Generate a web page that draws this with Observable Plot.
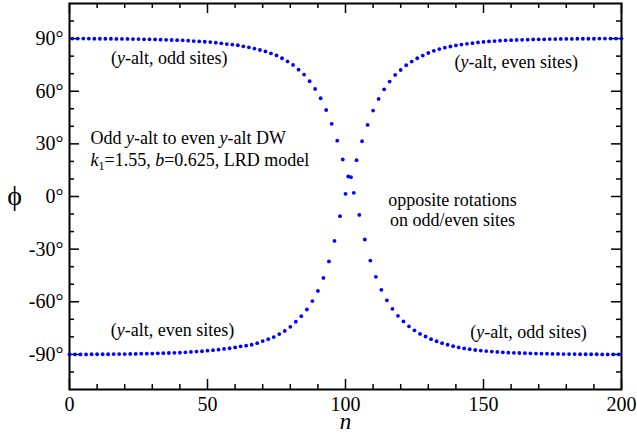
<!DOCTYPE html>
<html>
<head>
<meta charset="utf-8">
<script src="https://cdn.jsdelivr.net/npm/d3@7"></script>
<script src="https://cdn.jsdelivr.net/npm/@observablehq/plot@0.6"></script>
<style>
  html, body { margin: 0; padding: 0; background: #fff; }
  svg text { font-family: "Liberation Serif", "Times New Roman", serif; }
</style>
</head>
<body>
<div id="chart"></div>
<script>
// ---- data ----
// odd sites n = 1,3,...,199
const oddN = d3.range(1, 200, 2);
const oddPhi = [
  90.0, 90.0, 90.0, 90.0, 89.9, 89.9, 89.9, 89.9, 89.8, 89.8,
  89.8, 89.7, 89.7, 89.6, 89.6, 89.5, 89.4, 89.3, 89.2, 89.1,
  89.0, 88.8, 88.6, 88.4, 88.2, 88.0, 87.7, 87.3, 86.9, 86.6,
  86.2, 85.6, 85.0, 84.3, 83.5, 82.7, 81.6, 80.4, 78.8, 77.0,
  75.0, 72.3, 69.5, 65.7, 61.3, 56.0, 49.3, 41.4, 31.8, 21.1,
  11.4, 2.1, -10.5, -24.5, -36.5, -45.8, -53.2, -59.2, -64.0, -68.0,
  -71.2, -74.0, -76.3, -78.3, -79.8, -81.3, -82.5, -83.6, -84.5, -85.3,
  -86.0, -86.6, -87.0, -87.5, -87.8, -88.1, -88.4, -88.6, -88.8, -89.0,
  -89.1, -89.2, -89.3, -89.4, -89.5, -89.6, -89.6, -89.7, -89.7, -89.8,
  -89.8, -89.8, -89.9, -89.9, -89.9, -89.9, -90.0, -90.0, -90.0, -90.0
];
// even sites n = 0,2,...,200
const evenN = d3.range(0, 201, 2);
const evenPhi = [
  -90.0, -90.0, -90.0, -90.0, -89.9, -89.9, -89.9, -89.9, -89.8, -89.8,
  -89.8, -89.7, -89.7, -89.6, -89.6, -89.5, -89.4, -89.3, -89.2, -89.1,
  -89.0, -88.8, -88.6, -88.4, -88.2, -87.9, -87.6, -87.3, -86.9, -86.5,
  -86.0, -85.4, -85.0, -84.5, -83.6, -82.4, -81.3, -80.1, -78.4, -76.6,
  -74.3, -71.4, -68.2, -64.4, -59.6, -53.8, -46.4, -37.0, -25.3, -11.2,
  1.5, 11.0, 20.7, 31.5, 40.8, 49.0, 55.6, 61.1, 65.5, 69.3,
  72.1, 74.8, 76.9, 78.8, 80.3, 81.8, 83.0, 84.0, 84.8, 85.5,
  86.1, 86.6, 87.0, 87.4, 87.8, 88.1, 88.4, 88.6, 88.8, 89.0,
  89.1, 89.2, 89.3, 89.4, 89.5, 89.6, 89.6, 89.7, 89.7, 89.8,
  89.8, 89.8, 89.9, 89.9, 89.9, 89.9, 90.0, 90.0, 90.0, 90.0,
  90.0
];

// tick values
const xMajorTicks = [0, 50, 100, 150, 200];
const xMinorTicks = [10, 20, 30, 40, 60, 70, 80, 90, 110, 120, 130, 140, 160, 170, 180, 190];
const yMajorTicks = [-90, -60, -30, 0, 30, 60, 90];
const yMinorTicks = [-100, -80, -70, -50, -40, -20, -10, 10, 20, 40, 50, 70, 80, 100];

// annotations (text, anchor position in data units)
const noteText = [
  "(y-alt, odd sites)",
  "(y-alt, even sites)",
  "Odd y-alt to even y-alt DW",
  "k1=1.55, b=0.625, LRD model",
  "opposite rotations",
  "on odd/even sites",
  "(y-alt, even sites)",
  "(y-alt, odd sites)"
];
const noteN   = [36.1, 161.9, 7.6, 7.6, 138.8, 138.8, 37.3, 166.3];
const notePhi = [78.8, 76.5, 33.2, 20.7, -2.1, -13.5, -76.2, -77.3];
const noteAnchor = ["middle", "middle", "start", "start", "middle", "middle", "middle", "middle"];

// ---- build ----
const odd = oddN.map((n, i) => ({n, phi: oddPhi[i]}));
const even = evenN.map((n, i) => ({n, phi: evenPhi[i]}));
const notes = noteText.map((t, i) => ({t, n: noteN[i], phi: notePhi[i], a: noteAnchor[i]}));

const W = 637, H = 435;
const mL = 69, mR = 16, mT = 3, mB = 46;
const fw = W - mL - mR, fh = H - mT - mB;
const majorLen = 10, minorLen = 5;
const serif = "Liberation Serif";

const chart = Plot.plot({
  width: W, height: H,
  marginLeft: mL, marginRight: mR, marginTop: mT, marginBottom: mB,
  style: "font-family: 'Liberation Serif', 'Times New Roman', serif; font-size: 20px; color: black; background: white; overflow: visible;",
  x: {domain: [0, 200]},
  y: {domain: [-110, 110]},
  marks: [
    // inward ticks on all four sides
    Plot.tickX(xMajorTicks, {insetTop: fh - majorLen, stroke: "black", strokeWidth: 1.5}),
    Plot.tickX(xMajorTicks, {insetBottom: fh - majorLen, stroke: "black", strokeWidth: 1.5}),
    Plot.tickX(xMinorTicks, {insetTop: fh - minorLen, stroke: "black", strokeWidth: 1.5}),
    Plot.tickX(xMinorTicks, {insetBottom: fh - minorLen, stroke: "black", strokeWidth: 1.5}),
    Plot.tickY(yMajorTicks, {insetRight: fw - majorLen, stroke: "black", strokeWidth: 1.5}),
    Plot.tickY(yMajorTicks, {insetLeft: fw - majorLen, stroke: "black", strokeWidth: 1.5}),
    Plot.tickY(yMinorTicks, {insetRight: fw - minorLen, stroke: "black", strokeWidth: 1.5}),
    Plot.tickY(yMinorTicks, {insetLeft: fw - minorLen, stroke: "black", strokeWidth: 1.5}),
    Plot.frame({stroke: "black", strokeWidth: 2}),
    Plot.axisX({ticks: xMajorTicks, tickSize: 0, tickPadding: 7, tickFormat: d => String(d), label: null, fontSize: 20, fontFamily: serif}),
    Plot.axisY({ticks: yMajorTicks, tickSize: 0, tickPadding: 6, tickFormat: d => `${d}°`, label: null, fontSize: 20, fontFamily: serif}),
    // data
    Plot.dot(odd, {x: "n", y: "phi", r: 1.9, fill: "#0000ff", stroke: "none"}),
    Plot.dot(even, {x: "n", y: "phi", r: 1.9, fill: "#0000ff", stroke: "none"}),
    // annotations
    Plot.text(notes.filter(d => d.a === "middle"), {x: "n", y: "phi", text: "t", textAnchor: "middle", lineAnchor: "middle", fontSize: 18, fontFamily: serif, fill: "black"}),
    Plot.text(notes.filter(d => d.a === "start"), {x: "n", y: "phi", text: "t", textAnchor: "start", lineAnchor: "middle", fontSize: 18, fontFamily: serif, fill: "black"}),
    // axis titles
    Plot.text(["n"], {frameAnchor: "bottom", lineAnchor: "middle", dy: 32, fontSize: 23, fontStyle: "italic", fontFamily: serif, fill: "black"}),
    Plot.text(["ϕ"], {frameAnchor: "left", lineAnchor: "middle", dx: -55, textAnchor: "middle", fontSize: 28, fontFamily: serif, fill: "black"})
  ]
});

// rich text (italics, subscript)
const rich = {
  "(y-alt, odd sites)": '(<tspan font-style="italic">y</tspan>-alt, odd sites)',
  "(y-alt, even sites)": '(<tspan font-style="italic">y</tspan>-alt, even sites)',
  "Odd y-alt to even y-alt DW": 'Odd <tspan font-style="italic">y</tspan>-alt to even <tspan font-style="italic">y</tspan>-alt DW',
  "k1=1.55, b=0.625, LRD model": '<tspan font-style="italic">k</tspan><tspan font-size="12" dy="4">1</tspan><tspan dy="-4">=1.55, </tspan><tspan font-style="italic">b</tspan><tspan>=0.625, LRD model</tspan>'
};
d3.select(chart).selectAll("text").each(function () {
  const t = this.textContent;
  if (rich[t]) this.innerHTML = rich[t];
});

document.getElementById("chart").appendChild(chart);
</script>
</body>
</html>
